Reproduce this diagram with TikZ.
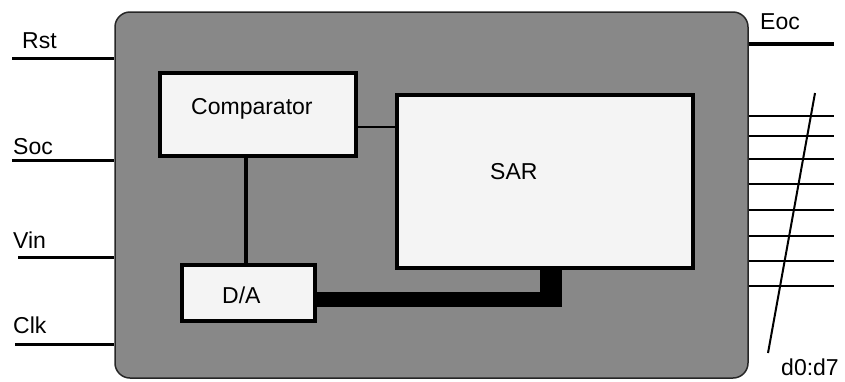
\documentclass[tikz,border=0pt]{standalone}
\usepackage{fontspec}
\setmainfont{Liberation Sans}
\usetikzlibrary{positioning}
\definecolor{chipgray}{HTML}{888888}
\definecolor{boxfill}{HTML}{F4F4F4}
\tikzstyle{chipbox} = [rectangle, rounded corners=15pt, draw=black!85, line width=1.5pt, fill=chipgray, inner sep=0pt]
\tikzstyle{block} = [rectangle, draw=black, line width=4pt, fill=boxfill, inner sep=0pt]
\tikzstyle{pin} = [line width=3pt]
\tikzstyle{dataline} = [line width=2pt]
\tikzstyle{txt} = [inner sep=0pt, anchor=base west]

\begin{document}
\begin{tikzpicture}[x=1pt, y=-1pt, every node/.style={font=\fontsize{23}{27}\selectfont}]
  \useasboundingbox (0,0) rectangle (845,381);

  % chip body
  \node[chipbox, minimum width=633pt, minimum height=366pt] (chip) at (431.5,195) {};

  % inner blocks
  \node[block, minimum width=196pt, minimum height=83pt] (comp) at (258,114.5) {};
  \node[block, minimum width=296pt, minimum height=173pt] (sar) at (545,181.5) {};
  \node[block, minimum width=133pt, minimum height=56pt] (da) at (248.5,293) {};
  \node[txt] (comptxt) at (191,114) {Comparator};
  \node[txt] (sartxt) at (490,179) {SAR};
  \node[txt] (datxt) at (222,303) {D/A};

  % internal links
  \draw[line width=1.5pt] (comp.east |- 0,127) -- (sar.west |- 0,127);
  \draw[line width=3.5pt] (comp.south -| 246,0) -- (da.north -| 246,0);
  \fill[black] (da.east |- 0,292) rectangle (562,307);
  \fill[black] (sar.south -| 540,0) rectangle (562,307);

  % inputs
  \coordinate (rst) at (12,58.7);
  \coordinate (soc) at (12,160.7);
  \coordinate (vin) at (18,257);
  \coordinate (clk) at (15,344);
  \foreach \p in {rst,soc,vin,clk}
    \draw[pin] (\p) -- (\p -| chip.west);
  \node[txt] (rstlbl) at (22,48) {Rst};
  \node[txt] (soclbl) at (13,154) {Soc};
  \node[txt] (vinlbl) at (13,248) {Vin};
  \node[txt] (clklbl) at (13,333) {Clk};

  % outputs
  \coordinate (eoc) at (834,44);
  \draw[line width=3.5pt] (eoc -| chip.east) -- (eoc);
  \node[txt] (eoclbl) at (760,29) {Eoc};
  \foreach \y in {116,136,159,184,210,236,261,286}
    \draw[dataline] (chip.east |- 0,\y) -- (834,\y);
  \coordinate (slashtop) at (815,93);
  \coordinate (slashbot) at (768,353);
  \draw[dataline] (slashtop) -- (slashbot);
  \node[txt] (datalbl) at (781,375) {d0:d7};
\end{tikzpicture}
\end{document}
